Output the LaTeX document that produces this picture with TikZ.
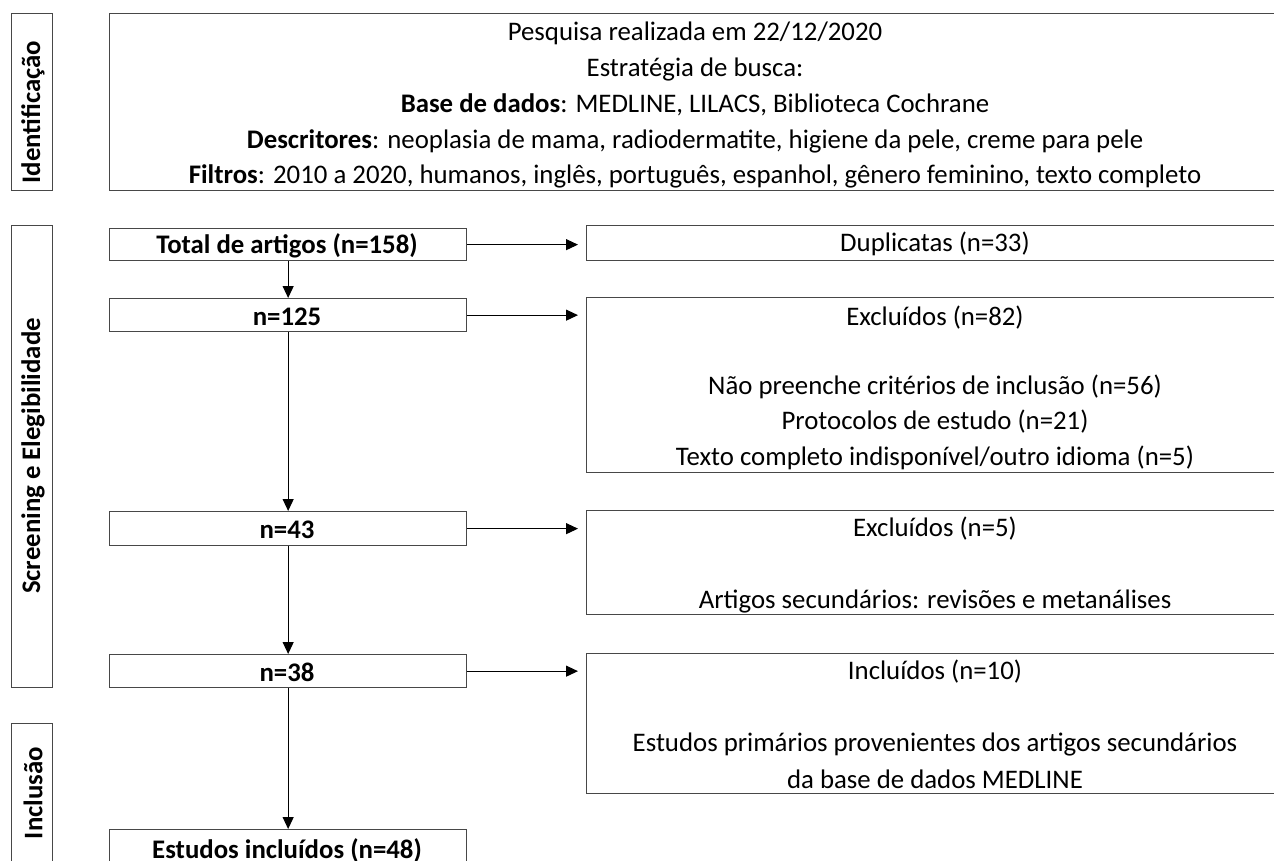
\documentclass[tikz,border=0pt]{standalone}
\usepackage{fontspec}
\setmainfont{Carlito}
\usetikzlibrary{arrows.meta,calc}
\begin{document}
\begin{tikzpicture}[x=1pt,y=-1pt,
  box/.style={draw=black!72, line width=1.3pt, inner sep=0pt, anchor=north west},
  txt/.style={inner sep=0pt, anchor=center, yshift=-2pt, font=\fontsize{26.8}{30}\selectfont},
  btxt/.style={txt, font=\fontsize{26.8}{30}\selectfont\bfseries},
  side/.style={inner sep=0pt, anchor=center, rotate=90, font=\fontsize{26.8}{30}\selectfont\bfseries},
  arr/.style={line width=1.1pt, -{Triangle[length=12pt,width=11pt]}}]
\useasboundingbox (0,0) rectangle (1274,861);
\fill[white] (0,0) rectangle (1274,861);
% side boxes
\node[box, minimum width=41pt, minimum height=177pt] (sid) at (11,13) {};
\node[box, minimum width=41pt, minimum height=462pt] (sse) at (11,225) {};
\node[box, minimum width=41pt, minimum height=140pt] (sin) at (11,723) {};
\node[side] (lid) at (33,112) {Identificação};
\node[side] (lse) at (33,456) {Screening e Elegibilidade};
\node[side] (lin) at (33,793) {Inclusão};
% top box
\node[box, minimum width=1173pt, minimum height=177pt] (top) at (109,13) {};
\node[txt] (t1) at (695,31) {Pesquisa realizada em 22/12/2020};
\node[txt] (t2) at (695,68) {Estratégia de busca:};
\node[txt] (t3) at (695,103) {\textbf{Base de dados}: MEDLINE, LILACS, Biblioteca Cochrane};
\node[txt] (t4) at (695,139) {\textbf{Descritores}: neoplasia de mama, radiodermatite, higiene da pele, creme para pele};
\node[txt] (t5) at (695,174) {\textbf{Filtros}: 2010 a 2020, humanos, inglês, português, espanhol, gênero feminino, texto completo};
% left boxes
\node[box, minimum width=357pt, minimum height=32pt] (tot) at (109,228) {};
\node[box, minimum width=357pt, minimum height=33pt] (n125) at (109,298) {};
\node[box, minimum width=357pt, minimum height=34pt] (n43) at (109,511) {};
\node[box, minimum width=357pt, minimum height=33pt] (n38) at (109,654) {};
\node[box, minimum width=357pt, minimum height=80pt] (fin) at (109,829) {};
\node[btxt] (ltot) at (287,244) {Total de artigos (n=158)};
\node[btxt] (l125) at (287,315) {n=125};
\node[btxt] (l43) at (287,528) {n=43};
\node[btxt] (l38) at (287,670) {n=38};
\node[btxt] (lfin) at (287,849) {Estudos incluídos (n=48)};
% right boxes
\node[box, minimum width=696pt, minimum height=35pt] (dup) at (586,225) {};
\node[box, minimum width=696pt, minimum height=175pt] (e82) at (586,297) {};
\node[box, minimum width=696pt, minimum height=104pt] (e5) at (586,510) {};
\node[box, minimum width=696pt, minimum height=140pt] (inc) at (586,653) {};
\node[txt] (rdup) at (935,242) {Duplicatas (n=33)};
\node[txt] (r82a) at (935,316) {Excluídos (n=82)};
\node[txt] (r82b) at (935,385) {Não preenche critérios de inclusão (n=56)};
\node[txt] (r82c) at (935,420) {Protocolos de estudo (n=21)};
\node[txt] (r82d) at (935,456) {Texto completo indisponível/outro idioma (n=5)};
\node[txt] (r5a) at (935,527) {Excluídos (n=5)};
\node[txt] (r5b) at (935,599) {Artigos secundários: revisões e metanálises};
\node[txt] (rinca) at (935,670) {Incluídos (n=10)};
\node[txt] (rincb) at (935,742) {Estudos primários provenientes dos artigos secundários};
\node[txt] (rincc) at (935,777) {da base de dados MEDLINE};
% arrows
\draw[arr] (tot.east) -- ([xshift=-8pt]tot.east -| dup.west);
\draw[arr] (n125.east) -- ([xshift=-8pt]n125.east -| e82.west);
\draw[arr] (n43.east) -- ([xshift=-8pt]n43.east -| e5.west);
\draw[arr] (n38.east) -- ([xshift=-8pt]n38.east -| inc.west);
\draw[arr] (tot.south) -- (n125.north);
\draw[arr] (n125.south) -- (n43.north);
\draw[arr] (n43.south) -- (n38.north);
\draw[arr] (n38.south) -- (fin.north);
\end{tikzpicture}
\end{document}
